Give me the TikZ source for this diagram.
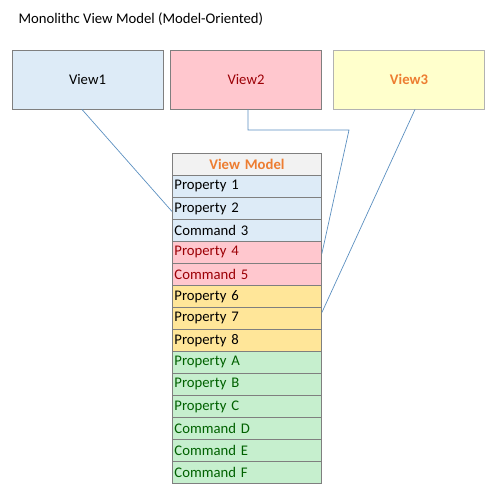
\documentclass[tikz,border=0pt]{standalone}
\usepackage{fontspec}
\setmainfont{Carlito}
\definecolor{bluef}{HTML}{DDEBF7}
\definecolor{redf}{HTML}{FFC7CE}
\definecolor{redt}{HTML}{9C0006}
\definecolor{yelf}{HTML}{FFFFCC}
\definecolor{orat}{HTML}{ED7D31}
\definecolor{neuf}{HTML}{FFE699}
\definecolor{grnf}{HTML}{C6EFCE}
\definecolor{grnt}{HTML}{006100}
\definecolor{hdrf}{HTML}{F2F2F2}
\definecolor{bordc}{HTML}{7F7F7F}
\definecolor{linec}{HTML}{5B8FC0}
\tikzset{
  txt/.style={font=\fontsize{14.7}{17}\selectfont},
  viewbox/.style={draw=bordc, line width=0.9pt, minimum width=151pt, minimum height=59pt, inner sep=0pt, txt},
  rowbox/.style={draw=bordc, line width=0.9pt, minimum width=149pt, minimum height=22pt, inner sep=0pt, anchor=north west, txt, text width=145pt, align=left},
  conn/.style={draw=linec, line width=0.7pt}
}
\begin{document}
\begin{tikzpicture}[x=1pt,y=-1pt]
\useasboundingbox (0,0) rectangle (498,500);
\node[txt, anchor=base west] (title) at (15,24) {Monolithc View Model (Model-Oriented)};
\node[viewbox, fill=bluef] (v1) at (87.5,79.5) {View1};
\node[viewbox, fill=redf, text=redt] (v2) at (246,79.5) {View2};
\node[viewbox, fill=yelf, draw=black!30, text=orat, font=\fontsize{14.7}{17}\selectfont\bfseries] (v3) at (409,79.5) {View3};
\node[rowbox, fill=hdrf, text=orat, align=center, font=\fontsize{14.7}{17}\selectfont\bfseries] (hd) at (172,153) {View Model};
\node[rowbox, fill=bluef] (p1) at (172,175) {Property 1};
\node[rowbox, fill=bluef] (p2) at (172,197) {Property 2};
\node[rowbox, fill=bluef] (c3) at (172,219) {Command 3};
\node[rowbox, fill=redf, text=redt] (p4) at (172,241) {Property 4};
\node[rowbox, fill=redf, text=redt] (c5) at (172,263) {Command 5};
\node[rowbox, fill=neuf] (p6) at (172,285) {Property 6};
\node[rowbox, fill=neuf] (p7) at (172,307) {Property 7};
\node[rowbox, fill=neuf] (p8) at (172,329) {Property 8};
\node[rowbox, fill=grnf, text=grnt] (pa) at (172,351) {Property A};
\node[rowbox, fill=grnf, text=grnt] (pb) at (172,373) {Property B};
\node[rowbox, fill=grnf, text=grnt] (pc) at (172,395) {Property C};
\node[rowbox, fill=grnf, text=grnt] (cd) at (172,417) {Command D};
\node[rowbox, fill=grnf, text=grnt] (ce) at (172,439) {Command E};
\node[rowbox, fill=grnf, text=grnt] (cf) at (172,461) {Command F};
\coordinate (k1) at (248,130);
\coordinate (k2) at (349,130);
\draw[conn] ([xshift=-5.5pt]v1.south) -- ([yshift=-3pt]p2.west);
\draw[conn] ([xshift=2pt]v2.south) -- (k1) -- (k2) -- ([yshift=-1pt]p4.east);
\draw[conn] ([xshift=6pt]v3.south) -- ([yshift=6pt]p7.east);
\end{tikzpicture}
\end{document}
